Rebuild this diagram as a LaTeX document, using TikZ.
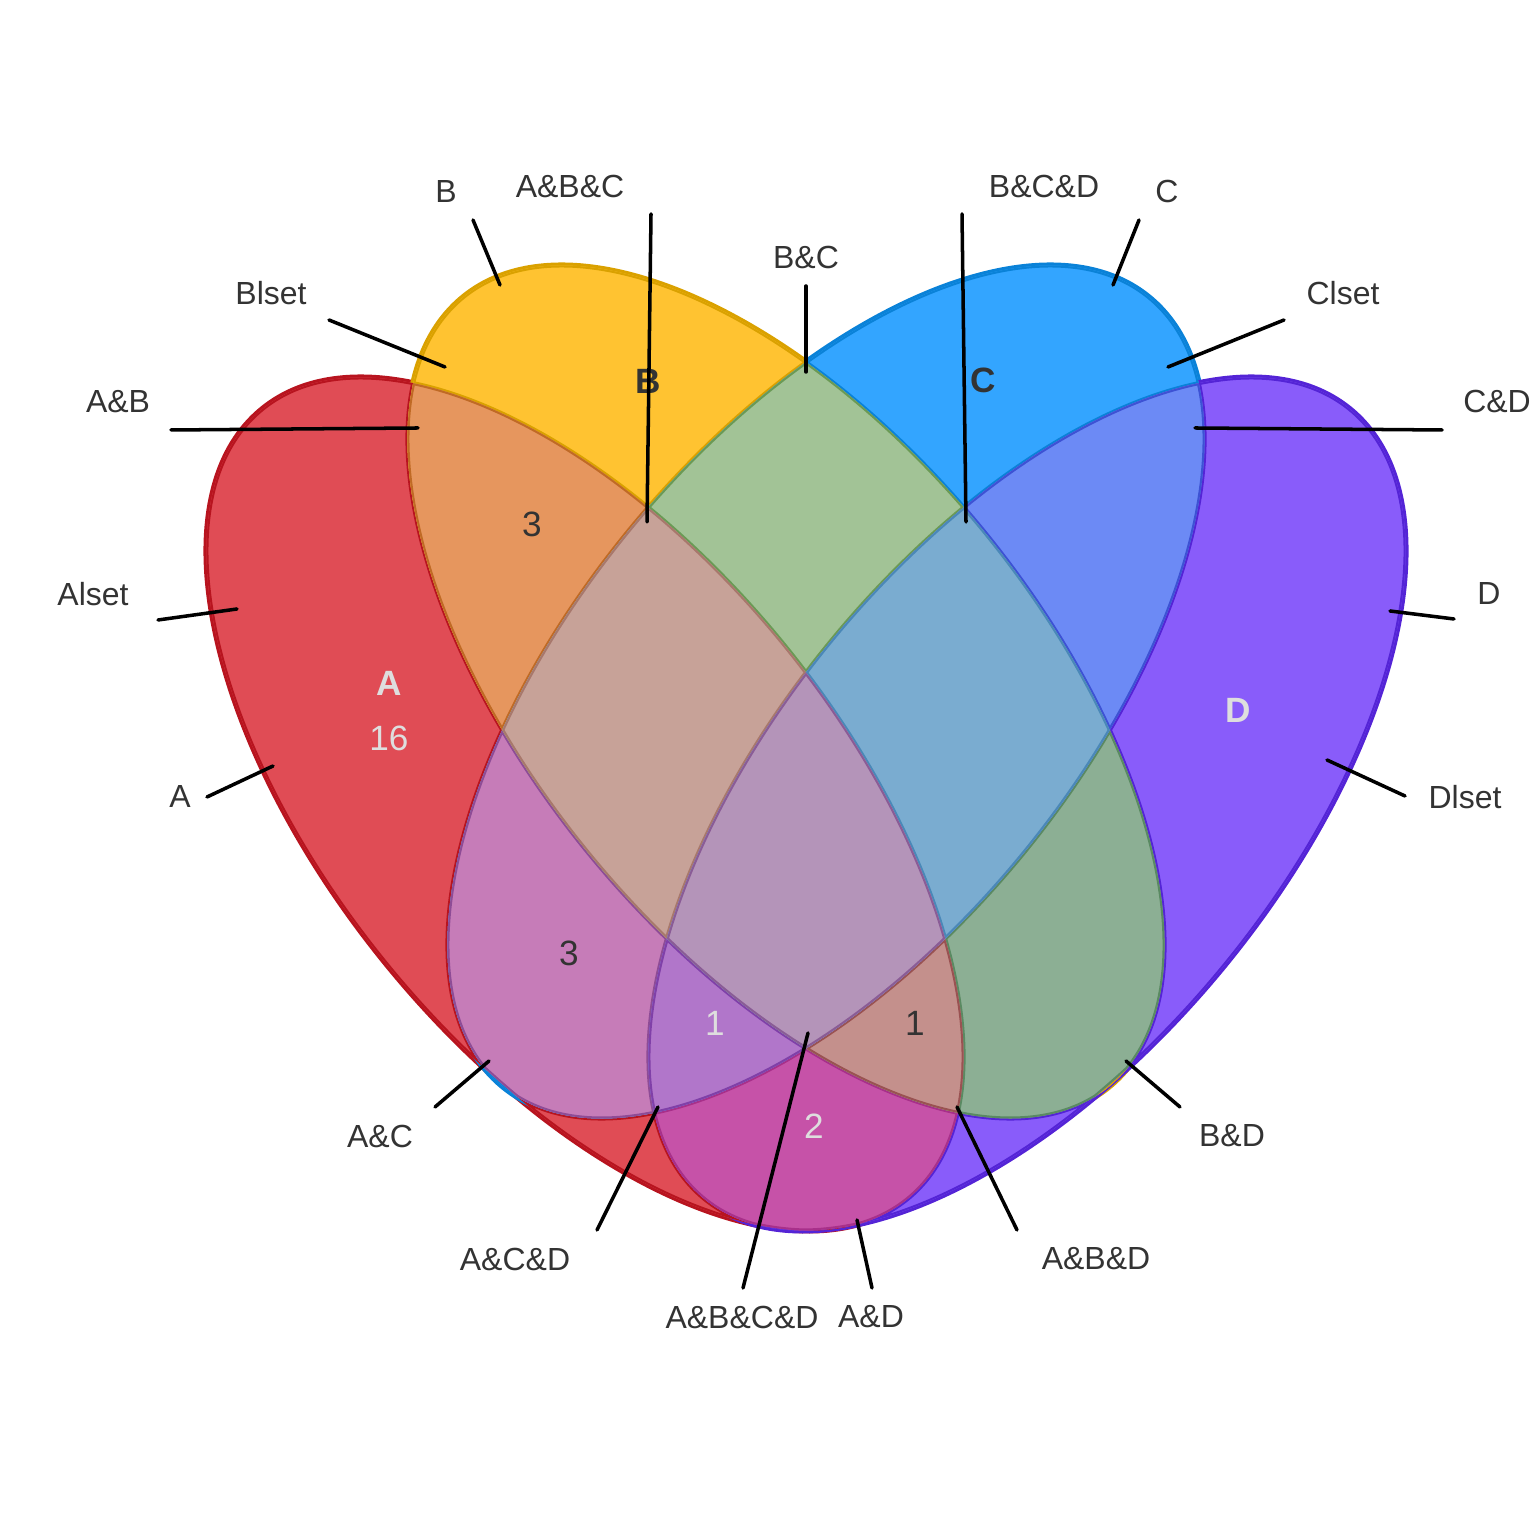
\documentclass[tikz,border=0pt]{standalone}
\usepackage{fontspec}
\setmainfont{Liberation Sans}
\definecolor{txt}{HTML}{333333}
\definecolor{lite}{HTML}{DEDEDE}
\definecolor{colA}{HTML}{E04C55}\definecolor{colB}{HTML}{FFC331}
\definecolor{colC}{HTML}{33A5FF}\definecolor{colD}{HTML}{895CFA}
\definecolor{colAB}{HTML}{E6965E}\definecolor{colAC}{HTML}{C67CB8}
\definecolor{colAD}{HTML}{C652A8}\definecolor{colBC}{HTML}{A2C396}
\definecolor{colBD}{HTML}{8CAF94}\definecolor{colCD}{HTML}{6C8AF5}
\definecolor{colABC}{HTML}{C7A298}\definecolor{colABD}{HTML}{C4908C}
\definecolor{colACD}{HTML}{B176CA}\definecolor{colBCD}{HTML}{7AACD0}
\definecolor{colABCD}{HTML}{B494B9}
\definecolor{edA}{HTML}{B8141F}\definecolor{edB}{HTML}{DAA100}
\definecolor{edC}{HTML}{0A82D8}\definecolor{edD}{HTML}{5424D6}
\definecolor{edAB}{HTML}{C06A25}\definecolor{edAC}{HTML}{8E4C96}
\definecolor{edAD}{HTML}{A8308A}\definecolor{edBC}{HTML}{6A9A55}
\definecolor{edBD}{HTML}{5A8A62}\definecolor{edCD}{HTML}{3D52D4}
\definecolor{edABC}{HTML}{A8786C}\definecolor{edABD}{HTML}{9A5252}
\definecolor{edACD}{HTML}{8040A8}\definecolor{edBCD}{HTML}{4A88B8}
\definecolor{edABCD}{HTML}{8A5C96}
\newcommand\shA{(5.85,7.32) circle[x radius=5.1,y radius=2.55,rotate=-50.7]}
\newcommand\shB{(7.86,8.44) circle[x radius=5.1,y radius=2.55,rotate=-50.7]}
\newcommand\shC{(8.26,8.44) circle[x radius=5.1,y radius=2.55,rotate=50.7]}
\newcommand\shD{(10.27,7.32) circle[x radius=5.1,y radius=2.55,rotate=50.7]}
\newcommand\zone[2]{\begin{scope}#1\fill[col#2](0,0)rectangle(15.36,15.36);
\draw[ed#2,line width=1.15pt]\shA\shB\shC\shD;\end{scope}}
\tikzset{lbl/.style={text=txt,font=\fontsize{9.1}{11}\selectfont},
num/.style={text=txt,font=\fontsize{10}{12}\selectfont},
big/.style={text=txt,font=\fontsize{10}{12}\selectfont\bfseries},
lead/.style={line width=1pt,line cap=round},
rim/.style={line width=1.7pt}}
\begin{document}
\begin{tikzpicture}
\useasboundingbox(0,0)rectangle(15.36,15.36);
\draw[rim,edA]\shA;\draw[rim,edB]\shB;\draw[rim,edC]\shC;\draw[rim,edD]\shD;
\zone{\clip\shA;}{A}\zone{\clip\shB;}{B}\zone{\clip\shC;}{C}\zone{\clip\shD;}{D}
\zone{\clip\shA;\clip\shB;}{AB}\zone{\clip\shA;\clip\shC;}{AC}
\zone{\clip\shA;\clip\shD;}{AD}\zone{\clip\shB;\clip\shC;}{BC}
\zone{\clip\shB;\clip\shD;}{BD}\zone{\clip\shC;\clip\shD;}{CD}
\zone{\clip\shA;\clip\shB;\clip\shC;}{ABC}\zone{\clip\shA;\clip\shB;\clip\shD;}{ABD}
\zone{\clip\shA;\clip\shC;\clip\shD;}{ACD}\zone{\clip\shB;\clip\shC;\clip\shD;}{BCD}
\zone{\clip\shA;\clip\shB;\clip\shC;\clip\shD;}{ABCD}
\node[big](nB)at(6.48,11.55){B};\node[big](nC)at(9.83,11.56){C};
\node[big,text=lite](nA)at(3.89,8.53){A};\node[num,text=lite](kA)at(3.89,7.98){16};
\node[big,text=lite](nD)at(12.38,8.26){D};
\node[num](kAB)at(5.32,10.12){3};\node[num](kAC)at(5.69,5.83){3};
\node[num,text=lite](kACD)at(7.15,5.13){1};\node[num](kABD)at(9.15,5.13){1};
\node[num,text=lite](kAD)at(8.14,4.10){2};
\foreach \n/\t/\px/\py/\sx/\sy/\ex/\ey in {
B/B/4.46/13.44/4.73/13.16/5.00/12.51,
ABC/A\&B\&C/5.70/13.49/6.51/13.22/6.47/10.14,
BC/B\&C/8.06/12.78/8.06/12.50/8.06/11.64,
BCD/B\&C\&D/10.44/13.49/9.62/13.22/9.66/10.14,
C/C/11.67/13.44/11.39/13.16/11.13/12.51,
Bset/Blset/2.71/12.43/3.29/12.16/4.45/11.69,
Cset/Clset/13.43/12.43/12.84/12.16/11.68/11.69,
AB/A\&B/1.18/11.34/1.71/11.06/4.18/11.08,
CD/C\&D/14.97/11.34/14.42/11.06/11.95/11.08,
Aset/Alset/0.93/9.42/1.58/9.16/2.37/9.27,
D/D/14.89/9.42/14.54/9.17/13.90/9.25,
A/A/1.80/7.39/2.07/7.39/2.73/7.70,
Dset/Dlset/14.65/7.39/14.05/7.40/13.27/7.76,
AC/A\&C/3.80/4.00/4.35/4.29/4.89/4.75,
BD/B\&D/12.32/4.00/11.80/4.29/11.26/4.75,
ACD/A\&C\&D/5.15/2.77/5.97/3.06/6.58/4.29,
ABD/A\&B\&D/10.96/2.77/10.17/3.06/9.57/4.29,
ABCD/A\&B\&C\&D/7.42/2.19/7.43/2.48/8.08/5.03,
AD/A\&D/8.71/2.19/8.72/2.48/8.57/3.16}{
\node[lbl](t\n)at(\px,\py){\t};\coordinate(s\n)at(\sx,\sy);\coordinate(e\n)at(\ex,\ey);
\draw[lead](s\n)--(e\n);}
\end{tikzpicture}
\end{document}
